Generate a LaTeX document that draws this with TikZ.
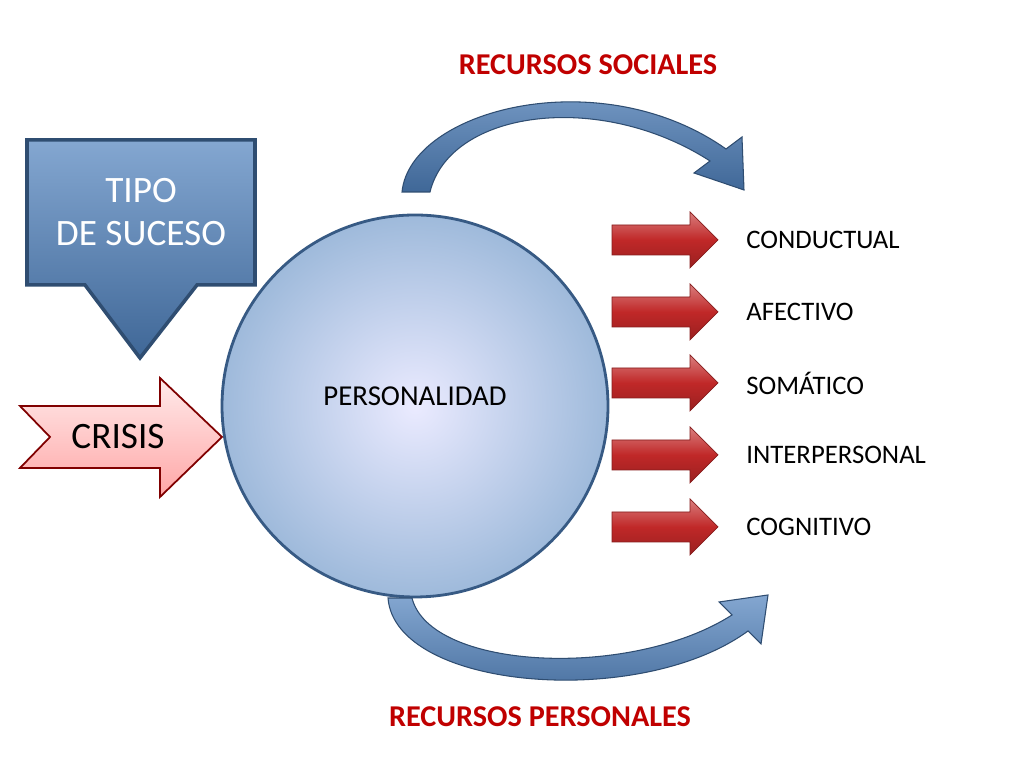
\documentclass[tikz,border=0pt]{standalone}
\usepackage{fontspec}
\setmainfont{Carlito}
\usetikzlibrary{positioning}
\definecolor{darkred}{RGB}{192,0,0}
\definecolor{boxblue}{RGB}{79,129,189}
\definecolor{arrowred}{RGB}{192,40,40}
\tikzset{
  item/.style={anchor=west, font=\fontsize{7.6pt}{9pt}\selectfont},
  title/.style={font=\bfseries\fontsize{8.6pt}{10pt}\selectfont, text=darkred},
  redarrow/.style={top color=arrowred!60!white, bottom color=arrowred!80!black, middle color=arrowred, draw=arrowred!70!black, line width=0.2pt},
  bluearrow/.style={top color=boxblue!70!white, bottom color=boxblue!80!black, draw=boxblue!60!black, line width=0.3pt}
}
\newcommand{\outarrow}[1]{%
  \draw[redarrow] (612,#1-15) -- (690,#1-15) -- (690,#1-28) -- (718,#1) -- (690,#1+28) -- (690,#1+15) -- (612,#1+15) -- cycle;}
\begin{document}
\begin{tikzpicture}[x=0.01cm, y=-0.01cm]
  \useasboundingbox[fill=white] (0,0) rectangle (1024,768);
  % tipo de suceso
  \draw[bluearrow, line width=1pt] (27,140) -- (255,140) -- (255,285) -- (197,285) -- (140,358) -- (85,285) -- (27,285) -- cycle;
  \node[text=white, align=center, font=\fontsize{10.6pt}{12pt}\selectfont] (tipo) at (141,212) {TIPO\\DE SUCESO};
  % crisis
  \draw[top color=red!8, bottom color=red!35, draw=red!50!black, line width=0.5pt]
    (20,406) -- (160,406) -- (160,378) -- (222,437) -- (160,497) -- (160,468) -- (20,468) -- (50,437) -- cycle;
  \node[font=\fontsize{10.6pt}{12pt}\selectfont] (crisis) at (118,437) {CRISIS};
  % personalidad
  \draw[inner color=blue!8, outer color=boxblue!55, draw=boxblue!70!black, line width=0.8pt] (415,406) ellipse [x radius=193, y radius=191];
  \node[font=\fontsize{8.2pt}{10pt}\selectfont] (pers) at (415,396) {PERSONALIDAD};
  % salidas
  \foreach \yy/\txt in {240/CONDUCTUAL, 312/AFECTIVO, 383/SOMÁTICO, 455/INTERPERSONAL, 527/COGNITIVO}{
    \outarrow{\yy}
    \node[item] at (734,\yy) {\txt};
  }
  % recursos
  \draw[bluearrow] (402,192) .. controls (410,110) and (600,60) .. (726,149)
    -- (742,137) -- (744,190) -- (694,173) -- (710,161)
    .. controls (600,90) and (450,110) .. (430,192) -- cycle;
  \draw[bluearrow] (388,598) .. controls (395,690) and (640,710) .. (748,631)
    -- (761,644) -- (768,595) -- (719,602) -- (732,615)
    .. controls (630,680) and (430,670) .. (412,598) -- cycle;
  \node[title] (soc) at (588,65) {RECURSOS SOCIALES};
  \node[title] (perso) at (540,717) {RECURSOS PERSONALES};
\end{tikzpicture}
\end{document}
